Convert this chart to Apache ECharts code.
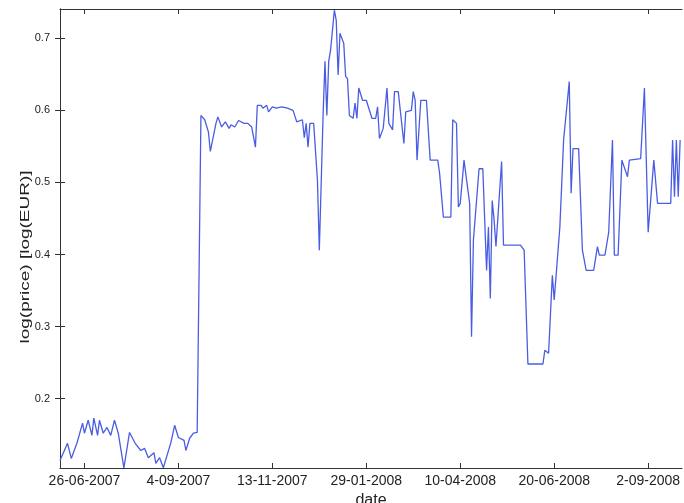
<!DOCTYPE html>
<html>
<head>
<meta charset="utf-8">
<script src="https://cdn.jsdelivr.net/npm/echarts@6/dist/echarts.min.js"></script>
<style>
  html, body { margin: 0; padding: 0; background: #fff; }
  #chart { width: 684px; height: 503px; }
</style>
</head>
<body>
<div id="chart"></div>
<script>
// trading-day index of each vertex, and log price at that vertex
const dayIdx = [
  0, 4, 6, 9, 12, 13, 15, 17, 18, 20, 21, 23, 25, 27, 29, 31, 34, 37, 40, 43,
  45, 47, 50, 51, 53, 55, 59, 61, 63, 66, 67, 69, 71, 73, 74, 75, 77, 79, 80, 83,
  84, 86, 88, 90, 91, 93, 95, 98, 100, 102, 104, 105, 107, 108, 110, 111, 113, 115, 118, 121,
  122, 124, 126, 129, 130, 131, 132, 133, 135, 137, 138, 140, 141, 142, 143, 144, 146, 147, 148, 149,
  151, 152, 153, 154, 156, 157, 158, 159, 161, 163, 166, 168, 169, 170, 172, 174, 175, 177, 178, 180,
  183, 184, 187, 188, 189, 190, 192, 195, 197, 201, 202, 204, 208, 209, 211, 212, 213, 215, 216, 218,
  219, 220, 221, 223, 225, 227, 228, 229, 230, 231, 232, 233, 235, 236, 238, 245, 247, 248, 249, 257,
  258, 260, 262, 263, 264, 266, 267, 268, 269, 271, 272, 273, 276, 278, 279, 280, 284, 286, 287, 290,
  292, 293, 294, 295, 297, 299, 300, 302, 303, 309, 311, 313, 314, 316, 317, 318, 325, 326, 327, 328,
  329, 330
];
const logPrice = [
  0.114, 0.138, 0.117, 0.138, 0.166, 0.152, 0.170, 0.149, 0.173, 0.149, 0.170, 0.152, 0.160, 0.149, 0.170, 0.152, 0.104, 0.153, 0.138, 0.128,
  0.131, 0.118, 0.125, 0.110, 0.118, 0.104, 0.139, 0.163, 0.146, 0.142, 0.128, 0.145, 0.152, 0.153, 0.152, 0.593, 0.587, 0.570, 0.543, 0.582,
  0.591, 0.577, 0.584, 0.575, 0.580, 0.577, 0.586, 0.582, 0.582, 0.577, 0.549, 0.607, 0.607, 0.603, 0.607, 0.598, 0.605, 0.603, 0.605, 0.603,
  0.605, 0.600, 0.584, 0.587, 0.562, 0.582, 0.549, 0.582, 0.582, 0.503, 0.406, 0.593, 0.668, 0.593, 0.668, 0.684, 0.739, 0.725, 0.649, 0.707,
  0.693, 0.647, 0.644, 0.593, 0.589, 0.610, 0.589, 0.631, 0.614, 0.614, 0.589, 0.589, 0.605, 0.561, 0.575, 0.631, 0.582, 0.573, 0.626, 0.626,
  0.554, 0.598, 0.600, 0.626, 0.614, 0.531, 0.614, 0.614, 0.531, 0.531, 0.513, 0.452, 0.452, 0.587, 0.582, 0.466, 0.471, 0.531, 0.531, 0.471,
  0.286, 0.420, 0.418, 0.519, 0.519, 0.378, 0.438, 0.339, 0.475, 0.448, 0.411, 0.413, 0.529, 0.413, 0.413, 0.413, 0.406, 0.404, 0.248, 0.248,
  0.267, 0.263, 0.371, 0.337, 0.337, 0.438, 0.438, 0.559, 0.559, 0.640, 0.485, 0.547, 0.547, 0.406, 0.404, 0.378, 0.378, 0.411, 0.399, 0.399,
  0.431, 0.431, 0.559, 0.399, 0.399, 0.531, 0.531, 0.508, 0.531, 0.533, 0.631, 0.431, 0.431, 0.531, 0.531, 0.471, 0.471, 0.559, 0.480, 0.559,
  0.480, 0.559
];

// x ticks sit every 50 trading days
const tickDays = [13, 63, 113, 163, 213, 263, 313];
const tickDates = ['26-06-2007', '4-09-2007', '13-11-2007', '29-01-2008', '10-04-2008', '20-06-2008', '2-09-2008'];
const yTicks = [0.2, 0.3, 0.4, 0.5, 0.6, 0.7];

const chart = echarts.init(document.getElementById('chart'));

const axisColor = '#333';
const fontName = 'Liberation Sans, Arial, sans-serif';

const xBase = {
  type: 'value',
  min: 0,
  max: 331,
  axisLine: { lineStyle: { color: axisColor, width: 1 } },
  axisTick: { inside: true, length: 5, customValues: tickDays, lineStyle: { color: axisColor } },
  splitLine: { show: false }
};
const yBase = {
  type: 'value',
  min: 0.1037,
  max: 0.7407,
  axisLine: { show: true, lineStyle: { color: axisColor, width: 1 } },
  axisTick: { show: true, inside: true, length: 5, customValues: yTicks, lineStyle: { color: axisColor } },
  splitLine: { show: false }
};

const option = {
  animation: false,
  grid: { left: 60, right: 2, top: 9, bottom: 35, outerBoundsMode: 'none', containLabel: false },
  // y label is drawn stretched along its length, like the reference
  graphic: [
    {
      type: 'text',
      x: 25,
      y: 257,
      rotation: Math.PI / 2,
      scaleX: 1.46,
      style: {
        text: 'log(price) [log(EUR)]',
        fill: '#222',
        font: '13px Liberation Sans, Arial, sans-serif',
        align: 'center',
        verticalAlign: 'middle'
      }
    }
  ],
  xAxis: [
    Object.assign({}, xBase, {
      position: 'bottom',
      name: 'date',
      nameLocation: 'middle',
      nameGap: 19,
      nameTextStyle: { color: '#222', fontFamily: fontName, fontSize: 16 },
      axisLabel: {
        color: '#222',
        fontFamily: fontName,
        fontSize: 14,
        margin: 6,
        customValues: tickDays,
        formatter: function (v) {
          const i = tickDays.indexOf(v);
          return i >= 0 ? tickDates[i] : '';
        }
      }
    }),
    Object.assign({}, xBase, { position: 'top', axisLabel: { show: false } })
  ],
  yAxis: [
    Object.assign({}, yBase, {
      position: 'left',
      axisLabel: {
        color: '#222',
        fontFamily: fontName,
        fontSize: 11,
        margin: 10,
        customValues: yTicks,
        formatter: function (v) { return v.toFixed(1); }
      }
    }),
    Object.assign({}, yBase, { position: 'right', axisLabel: { show: false } })
  ],
  series: [
    {
      type: 'line',
      xAxisIndex: 0,
      yAxisIndex: 0,
      showSymbol: false,
      lineStyle: { color: '#4a5de2', width: 1.3 },
      data: dayIdx.map(function (d, i) { return [d, logPrice[i]]; })
    }
  ]
};

chart.setOption(option);
</script>
</body>
</html>
